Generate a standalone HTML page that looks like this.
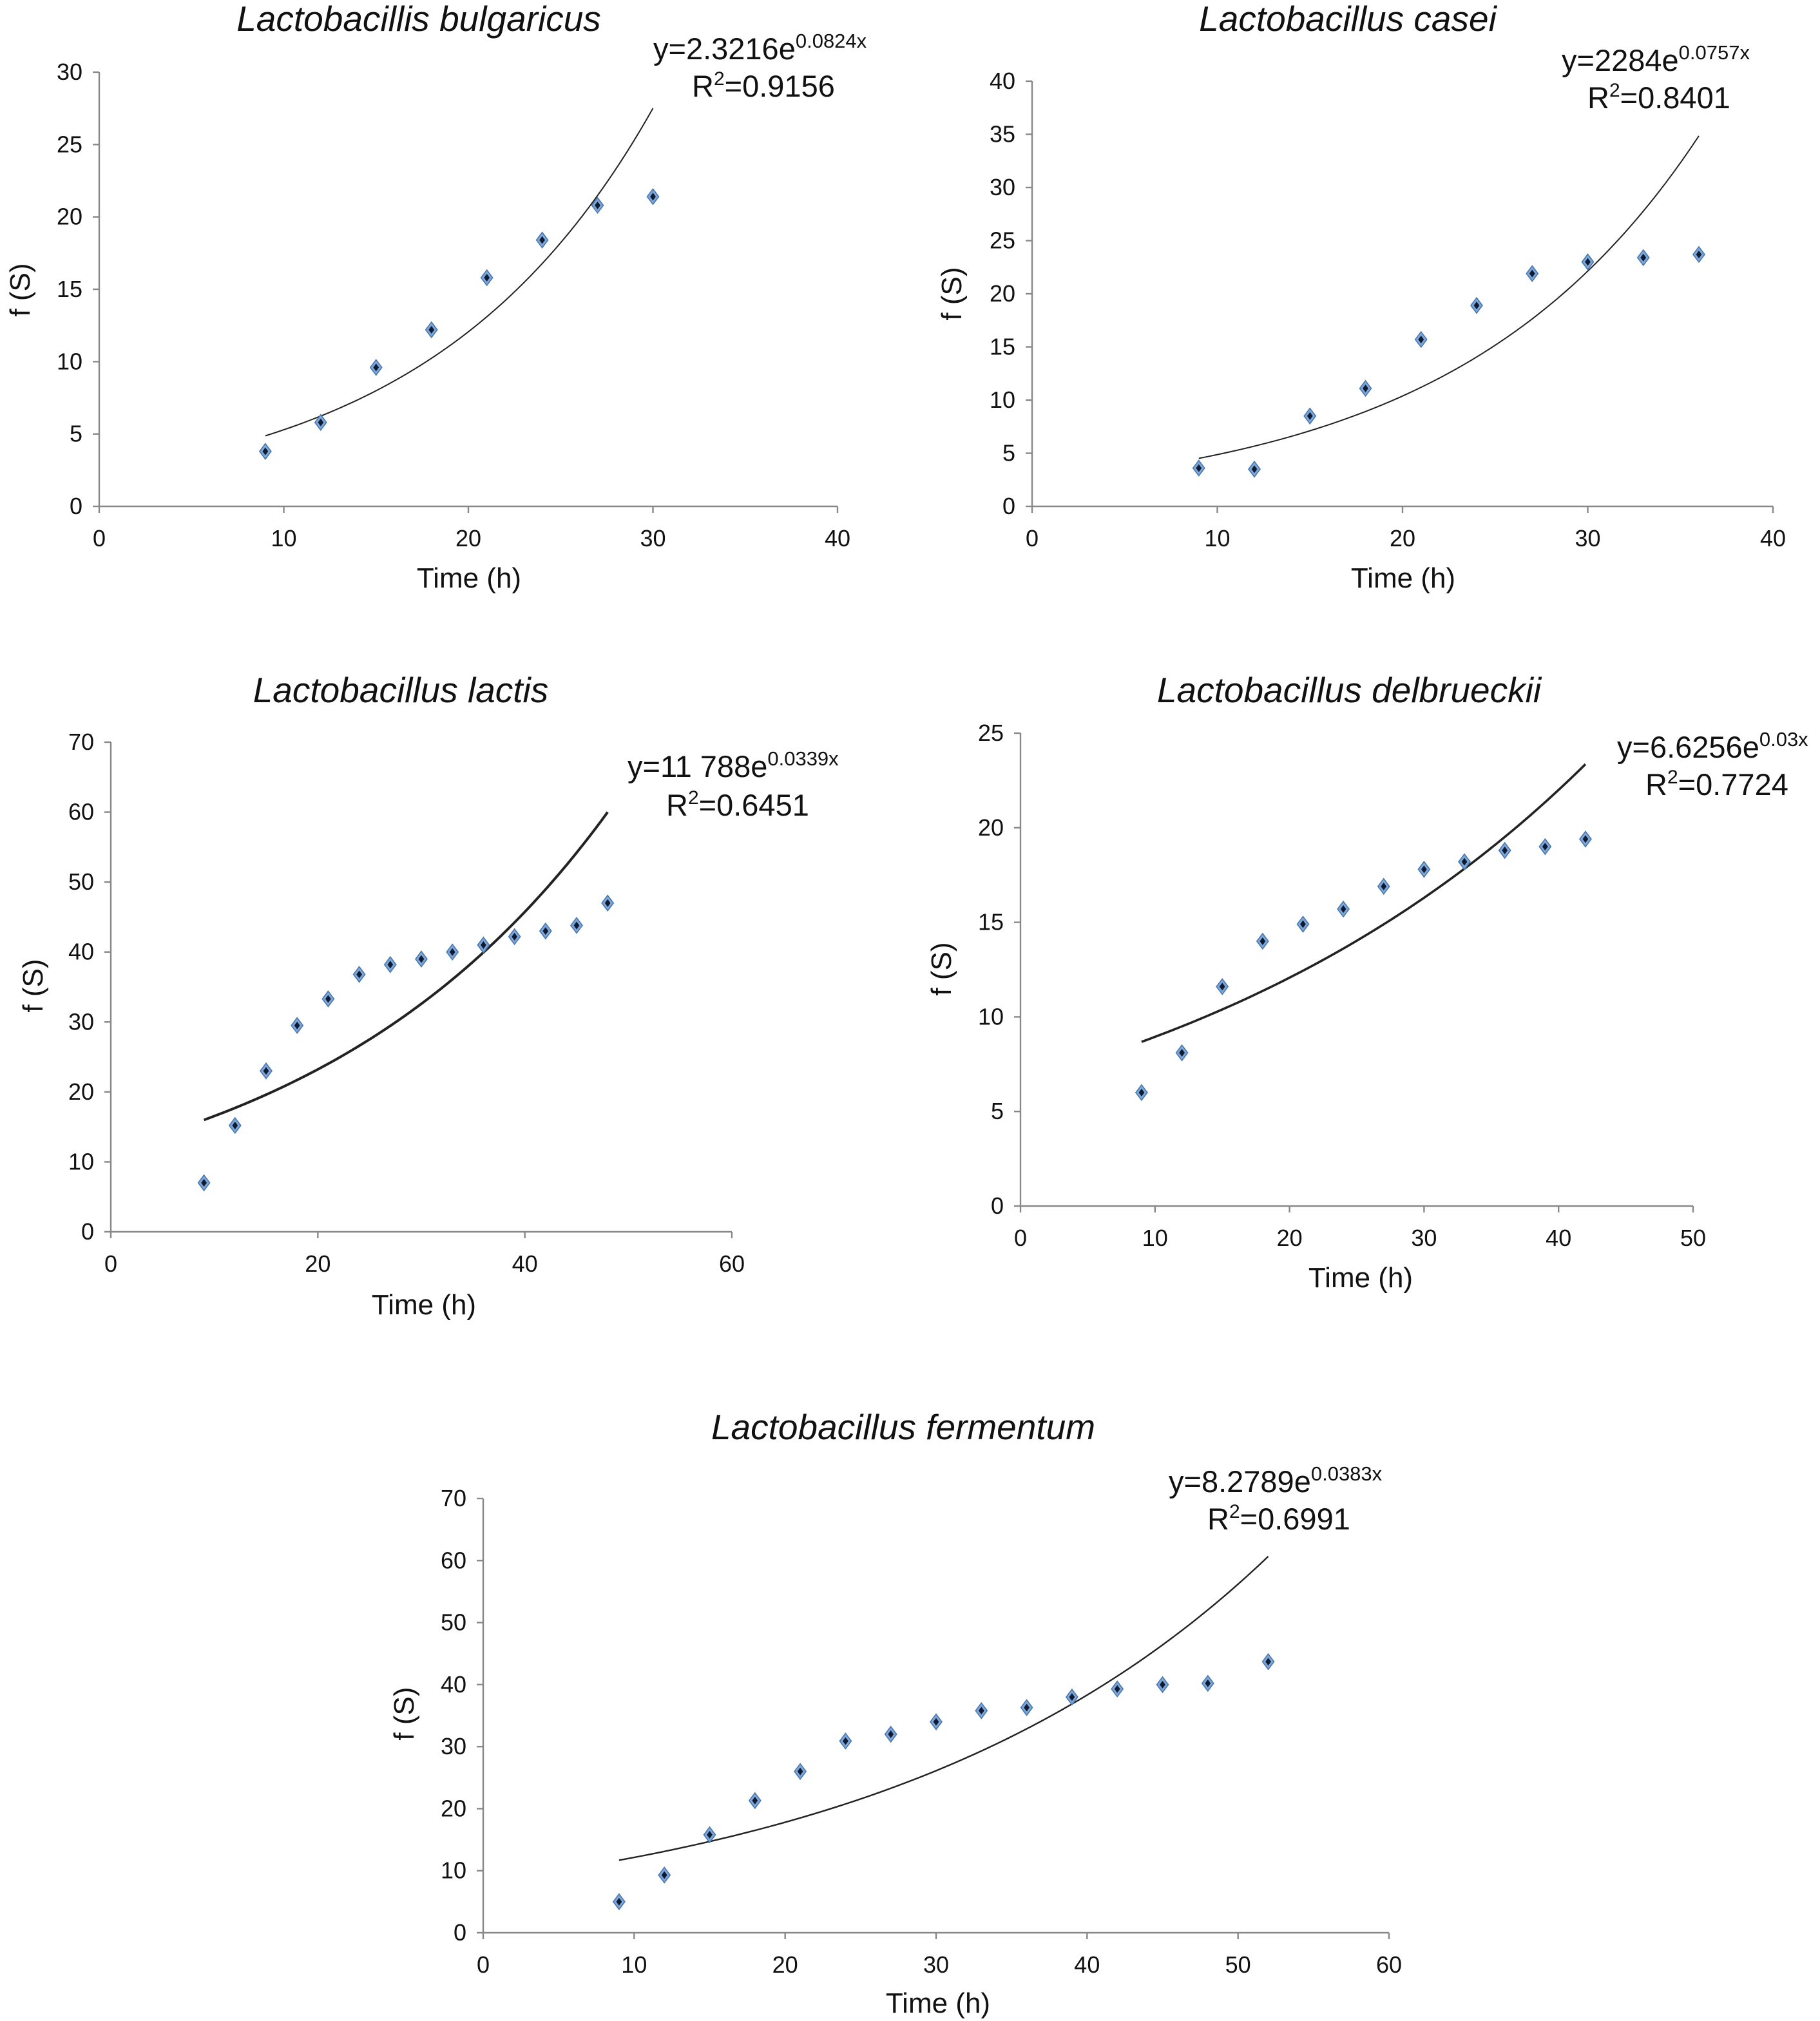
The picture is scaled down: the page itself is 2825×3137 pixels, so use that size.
<!DOCTYPE html>
<html><head><meta charset="utf-8"><style>
html,body{margin:0;padding:0;background:#fff;}
svg{display:block;font-family:"Liberation Sans",Arial,sans-serif;}
</style></head><body>
<svg id="fig" width="2825" height="3137" viewBox="0 0 1412.5 1568.5" xmlns="http://www.w3.org/2000/svg"></svg>
<script>
// ---- data ----
const bulgX=[9,12,15,18,21,24,27,30];
const bulgY=[3.8,5.8,9.6,12.2,15.8,18.4,20.8,21.4];
const caseiX=[9,12,15,18,21,24,27,30,33,36];
const caseiY=[3.6,3.5,8.5,11.1,15.7,18.9,21.9,23,23.4,23.7];
const lactisX=[9,12,15,18,21,24,27,30,33,36,39,42,45,48];
const lactisY=[7,15.2,23,29.5,33.3,36.8,38.2,39,40,41,42.2,43,43.8,47];
const delbX=[9,12,15,18,21,24,27,30,33,36,39,42];
const delbY=[6,8.1,11.6,14,14.9,15.7,16.9,17.8,18.2,18.8,19,19.4];
const fermX=[9,12,15,18,21,24,27,30,33,36,39,42,45,48,52];
const fermY=[5,9.3,15.8,21.3,26,30.9,32,34,35.8,36.3,38,39.3,40,40.2,43.7];
const fitA=[2.3216,2.284,11.788,6.6256,8.2789];
const fitB=[0.0824,0.0757,0.0339,0.03,0.0383];
const xTicks1=[0,10,20,30,40];
const yTicks1=[0,5,10,15,20,25,30];
const xTicks2=[0,10,20,30,40];
const yTicks2=[0,5,10,15,20,25,30,35,40];
const xTicks3=[0,20,40,60];
const yTicks3=[0,10,20,30,40,50,60,70];
const xTicks4=[0,10,20,30,40,50];
const yTicks4=[0,5,10,15,20,25];
const xTicks5=[0,10,20,30,40,50,60];
const yTicks5=[0,10,20,30,40,50,60,70];
const titles=["Lactobacillis bulgaricus","Lactobacillus casei","Lactobacillus lactis","Lactobacillus delbrueckii","Lactobacillus fermentum"];
const eqA=["2.3216","2284","11 788","6.6256","8.2789"];
const eqB=["0.0824x","0.0757x","0.0339x","0.03x","0.0383x"];
const r2=["0.9156","0.8401","0.6451","0.7724","0.6991"];

const NS="http://www.w3.org/2000/svg";
const svg=document.getElementById('fig');
function mk(tag,attrs,parent){const e=document.createElementNS(NS,tag);for(const k in attrs)e.setAttribute(k,attrs[k]);(parent||svg).appendChild(e);return e;}

const panels=[
 {xs:bulgX,ys:bulgY,xt:xTicks1,yt:yTicks1,x0:77,x1:650,xmax:40,y0:393,y1:56,ymax:30,title:[325,15],eq:[507,38],r2:[537,67],yl:[15,225],xl:[364,448],lw:1},
 {xs:caseiX,ys:caseiY,xt:xTicks2,yt:yTicks2,x0:801,x1:1376,xmax:40,y0:393,y1:63,ymax:40,title:[1046,15],eq:[1212,47],r2:[1232,76],yl:[738,228],xl:[1089,448],lw:1},
 {xs:lactisX,ys:lactisY,xt:xTicks3,yt:yTicks3,x0:86,x1:568,xmax:60,y0:956,y1:576,ymax:70,title:[311,536],eq:[487,595],r2:[517,625],yl:[25,765],xl:[329,1012],lw:2},
 {xs:delbX,ys:delbY,xt:xTicks4,yt:yTicks4,x0:792,x1:1314,xmax:50,y0:936,y1:569,ymax:25,title:[1047,536],eq:[1255,580],r2:[1277,609],yl:[730,752],xl:[1056,991],lw:1.8},
 {xs:fermX,ys:fermY,xt:xTicks5,yt:yTicks5,x0:375,x1:1078,xmax:60,y0:1500,y1:1163,ymax:70,title:[701,1108],eq:[907,1150],r2:[937,1179],yl:[313,1330],xl:[728,1554],lw:1.2}
];

panels.forEach((p,i)=>{
 const g=mk('g',{});
 
 
 const sx=v=>p.x0+(v/p.xmax)*(p.x1-p.x0);
 const sy=v=>p.y0-(v/p.ymax)*(p.y0-p.y1);
 const ax=mk('line',{x1:p.x0,y1:p.y0,x2:p.x1,y2:p.y0,stroke:'#888','stroke-width':1.2},g);
 
 
 const ay=mk('line',{x1:p.x0,y1:p.y0,x2:p.x0,y2:p.y1,stroke:'#888','stroke-width':1.2},g);
 
 
 p.xt.forEach(t=>{
  mk('line',{x1:sx(t),y1:p.y0,x2:sx(t),y2:p.y0+5,stroke:'#888','stroke-width':1.2},g);
  const tx=mk('text',{x:sx(t),y:p.y0+31,'text-anchor':'middle','font-size':18,fill:'#111'},g);
  tx.textContent=t;
  
  
 });
 p.yt.forEach(t=>{
  mk('line',{x1:p.x0-5,y1:sy(t),x2:p.x0,y2:sy(t),stroke:'#888','stroke-width':1.2},g);
  const tx=mk('text',{x:p.x0-13,y:sy(t)+6,'text-anchor':'end','font-size':18,fill:'#111'},g);
  tx.textContent=t;
  
  
 });
 const a=fitA[i], b=fitB[i];
 const xa=p.xs[0], xb=p.xs[p.xs.length-1];
 let d='';
 for(let k=0;k<=60;k++){const x=xa+(xb-xa)*k/60;const y=a*Math.exp(b*x);d+=(k?'L':'M')+sx(x).toFixed(2)+','+sy(y).toFixed(2);}
 const cv=mk('path',{d:d,fill:'none',stroke:'#222','stroke-width':p.lw},g);
 
 
 p.xs.forEach((x,k)=>{
  const cx=sx(x),cy=sy(p.ys[k]);
  const pt=mk('path',{d:`M${cx},${cy-6}L${cx+4.5},${cy}L${cx},${cy+6}L${cx-4.5},${cy}Z`,fill:'#7ea6d6',stroke:'#4a78b0','stroke-width':0.8},g);
  
  
  mk('path',{d:`M${cx},${cy-3}L${cx+2.2},${cy}L${cx},${cy+3}L${cx-2.2},${cy}Z`,fill:'#0d1b33'},g);
 });
 const ti=mk('text',{x:p.title[0],y:p.title[1]+9,'text-anchor':'middle','font-size':27.5,'font-style':'italic',fill:'#111'},g);
 ti.textContent=titles[i];
 
 
 const eq=mk('text',{x:p.eq[0],y:p.eq[1]+8,'font-size':23.5,fill:'#111'},g);
 
 
 const t1=mk('tspan',{},eq);t1.textContent='y='+eqA[i]+'e';
 const t2=mk('tspan',{dy:-9,'font-size':15.5},eq);t2.textContent=eqB[i];
 const rr=mk('text',{x:p.r2[0],y:p.r2[1]+8,'font-size':23.5,fill:'#111'},g);
 
 
 const r1=mk('tspan',{},rr);r1.textContent='R';
 const r2s=mk('tspan',{dy:-9,'font-size':15},rr);r2s.textContent='2';
 const r3=mk('tspan',{dy:9},rr);r3.textContent='='+r2[i];
 const yl=mk('text',{x:p.yl[0],y:p.yl[1],'text-anchor':'middle','font-size':22,fill:'#111',transform:`rotate(-90 ${p.yl[0]} ${p.yl[1]}) translate(0 8)`},g);
 yl.textContent='f (S)';
 
 
 const xl=mk('text',{x:p.xl[0],y:p.xl[1]+8,'text-anchor':'middle','font-size':22,fill:'#111'},g);
 xl.textContent='Time (h)';
 
 
});
</script>
</body></html>
